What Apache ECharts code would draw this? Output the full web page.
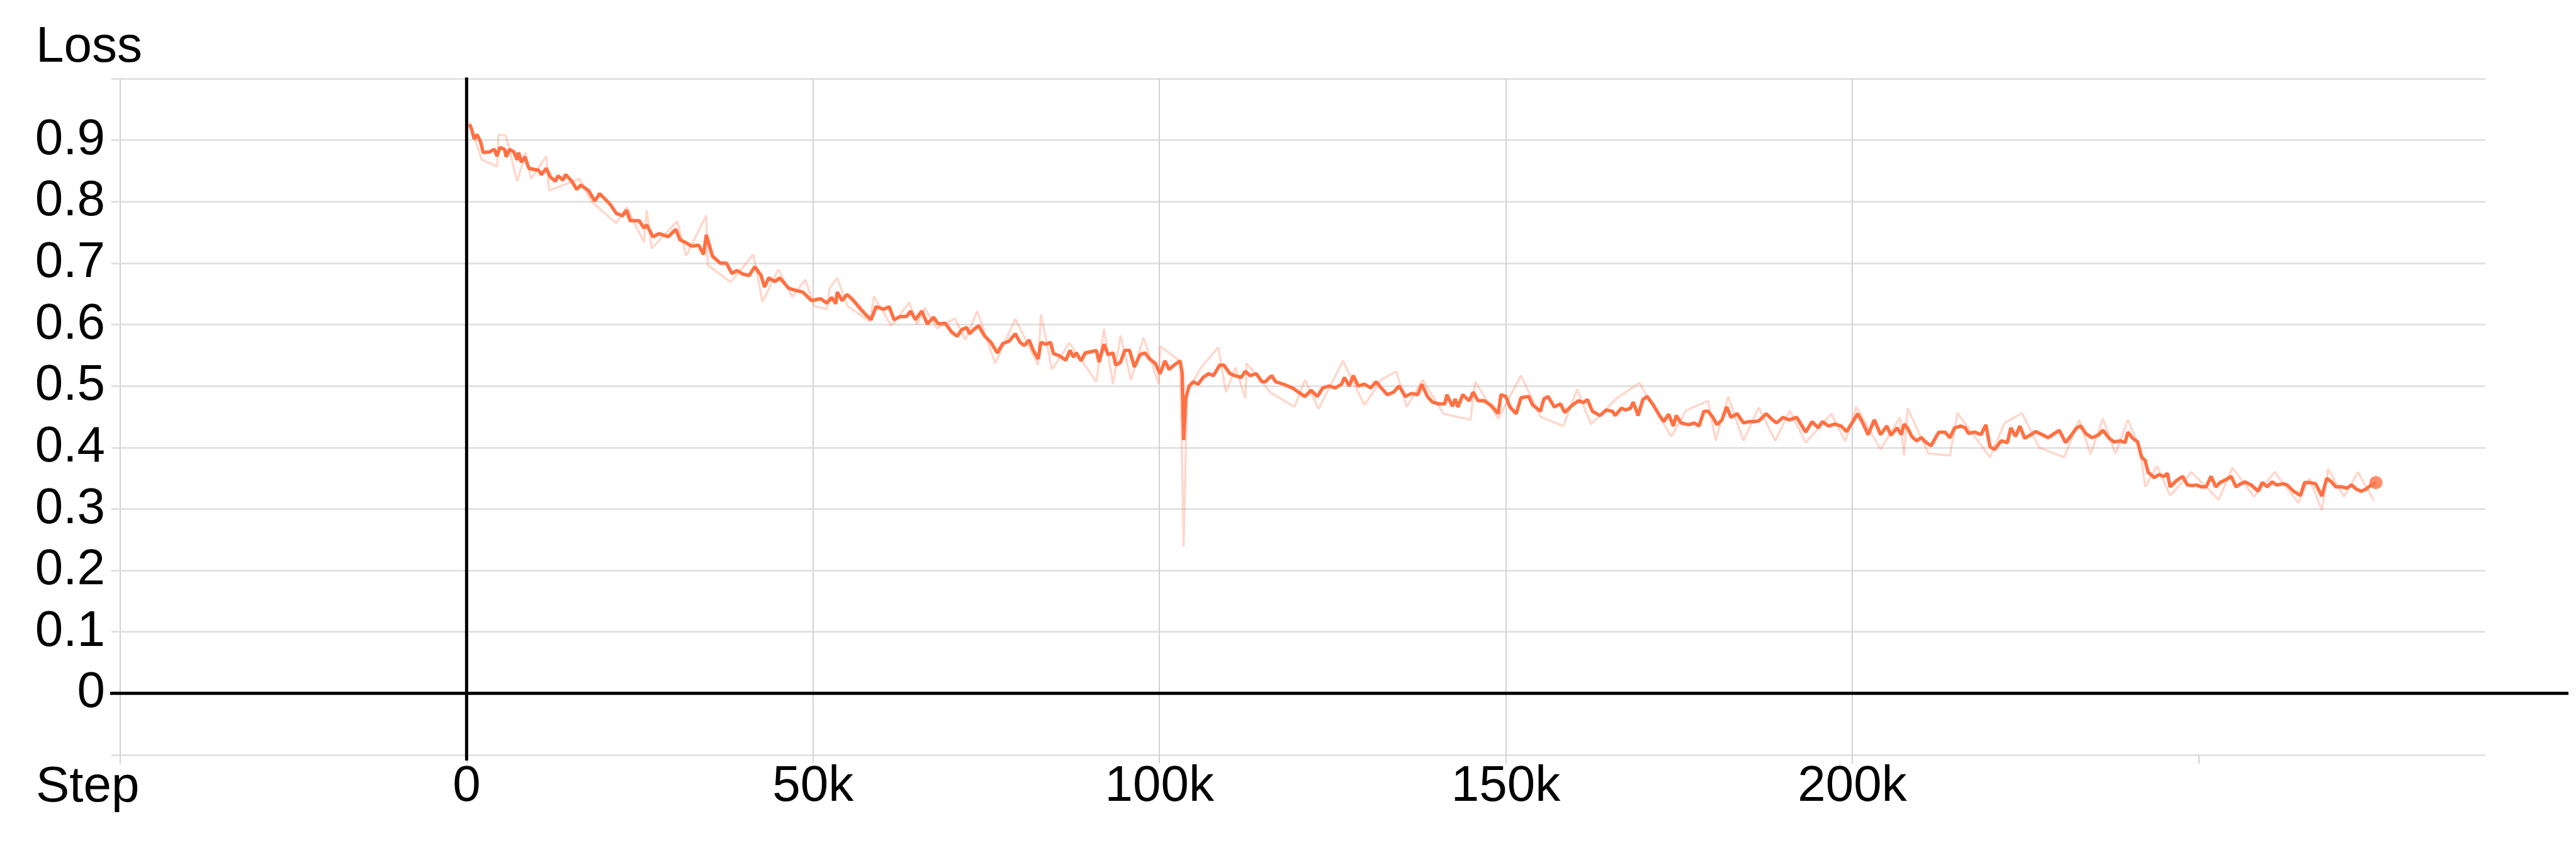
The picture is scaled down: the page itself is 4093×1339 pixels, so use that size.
<!DOCTYPE html>
<html>
<head>
<meta charset="utf-8">
<script src="https://cdn.jsdelivr.net/npm/echarts@6.0.0/dist/echarts.min.js"></script>
<style>
html, body { margin: 0; padding: 0; background: #fff; }
#chart { width: 4093px; height: 1339px; }
</style>
</head>
<body>
<div id="chart"></div>
<script>
// smoothed loss curve (step in thousands)
const smoothSteps = [
  0.4, 0.7, 1.1, 1.5, 2.0, 2.4, 3.3, 4.0, 4.4, 4.8, 5.5, 5.7, 6.2, 6.8, 7.3, 7.5, 7.9, 8.4, 9.0, 10.4,
  10.8, 11.5, 12.1, 12.8, 13.2, 13.9, 14.3, 15.2, 15.9, 16.5, 17.6, 18.5, 19.2, 20.7, 21.6, 22.5, 23.1, 23.6, 24.9, 25.6,
  26.0, 26.9, 27.8, 29.1, 30.2, 30.8, 31.7, 32.4, 32.8, 33.5, 34.2, 34.6, 35.5, 36.6, 37.5, 38.3, 39.0, 39.9, 40.8, 41.6,
  42.5, 43.0, 43.6, 44.5, 45.2, 46.5, 47.4, 48.5, 49.8, 51.1, 52.0, 52.7, 53.3, 53.5, 54.2, 54.9, 55.7, 56.9, 57.7, 58.4,
  59.1, 60.2, 61.0, 61.7, 62.6, 63.5, 64.1, 64.8, 65.7, 66.5, 67.4, 68.1,
  69.1, 70.0, 70.8, 71.5, 72.2, 72.6, 73.3, 73.9, 74.8, 75.7, 76.6, 77.4, 78.3, 79.2, 79.9, 80.5, 81.2, 81.8, 82.5, 82.9,
  83.6, 84.3, 84.7, 85.6, 86.5, 87.1, 87.6, 88.0, 88.7, 89.3, 90.2, 90.9, 91.3, 92.0, 92.6, 93.3, 93.7, 94.4, 95.0, 95.7,
  96.4, 97.2, 97.9, 98.6, 99.4, 100.1, 100.8, 101.4, 102.1, 103.0, 103.3, 103.5, 103.8, 104.3, 104.9, 105.6, 106.3, 107.1, 107.8, 108.7,
  109.3, 110.2, 110.9, 111.8, 112.4, 113.1, 114.0, 114.8, 115.3, 116.2, 116.8, 117.9, 119.2, 120.1, 121.0, 121.9, 122.8, 123.6, 124.5, 125.4,
  126.3, 126.7, 127.4, 128.0, 128.7, 129.6, 130.5, 131.3, 132.0, 132.9, 133.8, 134.6, 135.5, 136.4, 137.3, 137.9,
  138.1, 138.7, 139.4, 140.3, 141.2, 141.5, 142.3, 142.7, 143.1, 143.8, 144.7, 145.3, 146.0, 146.9, 147.8, 148.4, 148.9, 149.3, 150.0, 150.6,
  151.5, 152.2, 153.3, 153.9, 155.0, 155.5, 156.1, 157.0, 157.9, 158.5, 159.6, 160.5, 161.2, 161.8, 162.5, 163.6, 164.5, 165.4, 165.8, 166.7,
  167.3, 168.0, 168.4, 169.1, 169.8, 170.4, 171.3, 172.2, 172.8, 173.5, 174.2, 174.6, 175.3, 176.4, 177.2, 177.9, 178.6, 179.2, 179.9, 180.5,
  181.2, 181.9, 182.5, 183.4, 184.3, 185.0, 185.6, 186.5, 187.6, 188.5, 189.1, 190.0, 190.9, 192.0, 192.6, 193.3, 194.2, 195.1, 195.7, 196.6,
  197.5, 198.4, 199.2, 200.1, 200.8, 201.4, 202.3, 203.2, 204.1, 205.0, 205.6, 206.5,
  207.1, 207.5, 208.0, 208.6, 209.3, 210.0, 210.7, 211.4, 212.0, 212.5, 213.4, 214.1, 214.8, 215.7, 216.3, 216.8, 217.7, 218.6, 219.3, 219.9,
  220.6, 221.5, 222.4, 222.9, 223.6, 224.2, 224.9, 225.8, 226.5, 227.4, 228.3, 229.2, 229.9, 230.8, 231.5, 232.4, 233.0, 233.7, 234.6, 235.5,
  236.2, 237.1, 237.8, 238.7, 239.4, 239.8, 240.5, 241.2, 241.8, 242.3, 242.7, 243.6, 244.3, 245.0, 245.5, 245.9, 246.8, 247.7, 248.4, 249.1,
  249.7, 250.4, 251.1, 251.8, 252.5, 253.1, 254.0, 254.7, 255.4, 256.1, 256.7, 257.6, 258.6, 259.2, 259.9, 260.6, 261.3, 262.2, 262.8, 263.7,
  264.7, 265.3, 266.0, 266.9, 267.8, 268.5, 269.2, 269.8, 270.7, 271.4, 272.1, 272.8, 273.5, 274.1, 274.8, 275.6
];
const smoothLoss = [
  0.926, 0.919, 0.902, 0.909, 0.898, 0.880, 0.881, 0.885, 0.874, 0.888, 0.885, 0.873, 0.885, 0.881, 0.868, 0.880, 0.864, 0.873, 0.854, 0.851,
  0.844, 0.854, 0.840, 0.833, 0.842, 0.835, 0.844, 0.833, 0.820, 0.827, 0.818, 0.801, 0.813, 0.796, 0.781, 0.777, 0.786, 0.769, 0.769, 0.757,
  0.762, 0.743, 0.748, 0.743, 0.755, 0.738, 0.733, 0.728, 0.728, 0.729, 0.714, 0.746, 0.711, 0.700, 0.700, 0.683, 0.688, 0.682, 0.680, 0.694,
  0.680, 0.661, 0.676, 0.670, 0.676, 0.659, 0.656, 0.653, 0.639, 0.642, 0.635, 0.644, 0.634, 0.653, 0.639, 0.649, 0.641, 0.625, 0.615, 0.608,
  0.629, 0.625, 0.629, 0.608, 0.613, 0.613, 0.622, 0.608, 0.622, 0.601, 0.612, 0.601,
  0.602, 0.588, 0.581, 0.592, 0.595, 0.585, 0.593, 0.598, 0.581, 0.571, 0.554, 0.569, 0.573, 0.585, 0.571, 0.566, 0.575, 0.558, 0.544, 0.571,
  0.568, 0.571, 0.553, 0.549, 0.542, 0.558, 0.547, 0.554, 0.541, 0.554, 0.556, 0.558, 0.539, 0.568, 0.551, 0.554, 0.534, 0.539, 0.558, 0.558,
  0.531, 0.551, 0.554, 0.544, 0.537, 0.520, 0.541, 0.527, 0.534, 0.541, 0.520, 0.412, 0.480, 0.500, 0.507, 0.503, 0.514, 0.520, 0.517, 0.534,
  0.534, 0.520, 0.517, 0.514, 0.524, 0.517, 0.520, 0.507, 0.507, 0.517, 0.507, 0.503, 0.497, 0.490, 0.483, 0.493, 0.483, 0.497, 0.500, 0.497,
  0.503, 0.514, 0.500, 0.517, 0.500, 0.503, 0.497, 0.507, 0.497, 0.486, 0.490, 0.500, 0.483, 0.488, 0.486, 0.503,
  0.497, 0.483, 0.474, 0.471, 0.471, 0.486, 0.467, 0.479, 0.466, 0.486, 0.476, 0.490, 0.476, 0.476, 0.469, 0.462, 0.455, 0.486, 0.483, 0.466,
  0.455, 0.481, 0.483, 0.469, 0.459, 0.479, 0.483, 0.466, 0.471, 0.457, 0.469, 0.476, 0.473, 0.478, 0.459, 0.452, 0.461, 0.459, 0.452, 0.464,
  0.461, 0.464, 0.474, 0.452, 0.478, 0.483, 0.469, 0.452, 0.442, 0.454, 0.435, 0.452, 0.440, 0.437, 0.440, 0.435, 0.459, 0.459, 0.449, 0.437,
  0.445, 0.466, 0.449, 0.455, 0.440, 0.442, 0.442, 0.443, 0.455, 0.445, 0.440, 0.449, 0.445, 0.449, 0.438, 0.425, 0.442, 0.432, 0.442, 0.435,
  0.438, 0.435, 0.426, 0.442, 0.455, 0.443, 0.421, 0.445, 0.421, 0.435, 0.420, 0.432,
  0.421, 0.438, 0.432, 0.418, 0.411, 0.416, 0.408, 0.403, 0.415, 0.425, 0.425, 0.416, 0.432, 0.435, 0.432, 0.423, 0.425, 0.421, 0.437, 0.401,
  0.397, 0.411, 0.408, 0.432, 0.418, 0.435, 0.415, 0.421, 0.426, 0.421, 0.416, 0.423, 0.428, 0.408, 0.418, 0.432, 0.435, 0.423, 0.416, 0.420,
  0.428, 0.415, 0.409, 0.411, 0.408, 0.425, 0.415, 0.409, 0.384, 0.379, 0.360, 0.351, 0.356, 0.353, 0.358, 0.336, 0.346, 0.353, 0.339, 0.338,
  0.339, 0.336, 0.336, 0.353, 0.336, 0.343, 0.348, 0.353, 0.336, 0.341, 0.344, 0.339, 0.329, 0.343, 0.336, 0.344, 0.339, 0.341, 0.339, 0.329,
  0.322, 0.343, 0.343, 0.341, 0.321, 0.350, 0.344, 0.336, 0.336, 0.334, 0.339, 0.332, 0.329, 0.332, 0.338, 0.343
];

// raw (unsmoothed) loss, faint line behind
const rawSteps = [
  0.4, 2.2, 4.4, 4.6, 5.7, 7.3, 8.5, 9.3, 11.5, 11.9, 16.3, 18.0, 21.6, 23.1, 25.6, 26.0, 26.7, 30.4, 31.7, 34.6,
  34.8, 38.1, 41.4, 42.7, 45.0, 47.0, 48.9, 50.2, 52.0, 52.4, 53.5, 55.0, 58.2, 58.8, 61.3, 63.9, 65.0, 66.1, 67.9, 70.5,
  72.0, 73.7, 76.3, 79.2, 82.5, 82.9, 84.5, 87.0, 90.9, 92.0, 93.3, 94.4, 95.9, 97.7, 99.9, 100.1, 103.0, 103.5, 104.0, 106.0,
  108.5, 109.6, 111.0, 112.4, 112.6, 116.0, 119.5, 121.0, 123.0, 126.5, 129.6, 132.0, 134.2, 135.7, 138.0, 141.0, 144.9, 145.6, 148.9, 152.2,
  155.0, 158.3, 160.3, 162.3, 166.0, 169.3, 173.9, 176.0, 179.2, 180.3, 182.1, 184.3, 186.5, 188.9, 191.0, 193.3, 197.0, 199.0, 200.6, 204.1,
  206.9, 207.5, 208.0, 211.0, 214.1, 215.2, 219.9, 222.0, 224.5, 227.0, 230.6, 232.8, 234.4, 236.2, 238.0, 239.8, 241.5, 242.3, 244.0, 245.9,
  249.0, 252.9, 254.9, 258.0, 261.0, 264.4, 266.0, 267.8, 268.7, 271.0, 273.0, 275.3
];
const rawLoss = [
  0.930, 0.868, 0.857, 0.909, 0.907, 0.833, 0.880, 0.837, 0.874, 0.818, 0.837, 0.800, 0.765, 0.791, 0.734, 0.786, 0.724, 0.768, 0.712, 0.778,
  0.697, 0.669, 0.714, 0.637, 0.690, 0.645, 0.673, 0.630, 0.625, 0.659, 0.676, 0.630, 0.605, 0.646, 0.598, 0.636, 0.600, 0.627, 0.594, 0.610,
  0.575, 0.622, 0.537, 0.609, 0.534, 0.617, 0.527, 0.570, 0.507, 0.593, 0.503, 0.582, 0.510, 0.579, 0.503, 0.565, 0.540, 0.239, 0.490, 0.530,
  0.563, 0.490, 0.530, 0.480, 0.537, 0.490, 0.466, 0.510, 0.463, 0.541, 0.469, 0.510, 0.524, 0.466, 0.510, 0.455, 0.445, 0.507, 0.447, 0.517,
  0.450, 0.435, 0.495, 0.438, 0.480, 0.505, 0.418, 0.460, 0.476, 0.411, 0.483, 0.411, 0.465, 0.411, 0.460, 0.408, 0.455, 0.410, 0.466, 0.397,
  0.449, 0.387, 0.464, 0.390, 0.387, 0.456, 0.384, 0.440, 0.456, 0.400, 0.384, 0.445, 0.389, 0.447, 0.390, 0.445, 0.400, 0.336, 0.370, 0.322,
  0.360, 0.315, 0.367, 0.320, 0.360, 0.310, 0.350, 0.298, 0.365, 0.320, 0.360, 0.314
];

// axes
const xTicks = [-50, 0, 50, 100, 150, 200, 250];
const xLabels = [0, 50, 100, 150, 200];
const yLabels = [0, 0.1, 0.2, 0.3, 0.4, 0.5, 0.6, 0.7, 0.8, 0.9];

const FONT = '"Liberation Sans", Arial, sans-serif';
const ORANGE = '#ff7043';

const chart = echarts.init(document.getElementById('chart'));
const pairs = (xs, ys) => xs.map((x, i) => [x, ys[i]]);
const last = smoothSteps.length - 1;

chart.setOption({
  animation: false,
  backgroundColor: '#fff',
  grid: { left: 191, right: 144, top: 125, bottom: 140, outerBoundsMode: 'none' },
  xAxis: {
    type: 'value',
    min: -50,
    max: 291.4,
    interval: 50,
    axisLine: { show: false, onZero: false },
    axisTick: { show: true, length: 14, customValues: xTicks, lineStyle: { color: '#d2d2d2', width: 2 } },
    splitLine: { show: true, showMaxLine: false, lineStyle: { color: '#d2d2d2', width: 2 } },
    axisLabel: {
      margin: 11,
      fontSize: 80,
      fontFamily: FONT,
      color: '#000',
      customValues: xLabels,
      formatter: v => (v === 0 ? '0' : v + 'k')
    }
  },
  yAxis: {
    type: 'value',
    min: -0.1,
    max: 1.0,
    interval: 0.1,
    axisLine: { show: false, onZero: false },
    axisTick: { show: true, length: 14, lineStyle: { color: '#e2e2e2', width: 3 } },
    splitLine: { show: true, lineStyle: { color: '#e2e2e2', width: 3 } },
    axisLabel: {
      margin: 24,
      fontSize: 80,
      fontFamily: FONT,
      color: '#000',
      formatter: v => {
        const r = Math.round(v * 10) / 10;
        return yLabels.includes(r) ? String(r) : '';
      }
    }
  },
  series: [
    {
      name: 'raw',
      type: 'line',
      data: pairs(rawSteps, rawLoss),
      showSymbol: false,
      silent: true,
      z: 1,
      lineStyle: { color: ORANGE, opacity: 0.28, width: 3.5 }
    },
    {
      name: 'smoothed',
      type: 'line',
      data: pairs(smoothSteps, smoothLoss),
      showSymbol: false,
      silent: true,
      z: 3,
      lineStyle: { color: ORANGE, width: 5.5 }
    },
    {
      name: 'last',
      type: 'scatter',
      data: [[smoothSteps[last], smoothLoss[last]]],
      symbolSize: 21,
      z: 4,
      itemStyle: { color: ORANGE }
    }
  ]
});

// black zero lines and axis titles
const px = v => chart.convertToPixel({ gridIndex: 0 }, v);
const [x0, y0] = px([0, 0]);
const gridTop = px([0, 1.0])[1];
const gridBottom = px([0, -0.1])[1];
const gridLeft = px([-50, 0])[0];
const gridRight = px([291.4, 0])[0];

chart.setOption({
  graphic: [
    { type: 'line', z: 10, shape: { x1: gridLeft - 16, y1: y0, x2: gridRight + 132, y2: y0 }, style: { stroke: '#000', lineWidth: 5 } },
    { type: 'line', z: 10, shape: { x1: x0, y1: gridTop - 2, x2: x0, y2: gridBottom + 9 }, style: { stroke: '#000', lineWidth: 5 } },
    { type: 'text', x: 57, y: 76, style: { text: 'Loss', fontSize: 80, fontFamily: FONT, fill: '#000', verticalAlign: 'middle' } },
    { type: 'text', x: 57, y: 1251, style: { text: 'Step', fontSize: 80, fontFamily: FONT, fill: '#000', verticalAlign: 'middle' } }
  ]
});
</script>
</body>
</html>
